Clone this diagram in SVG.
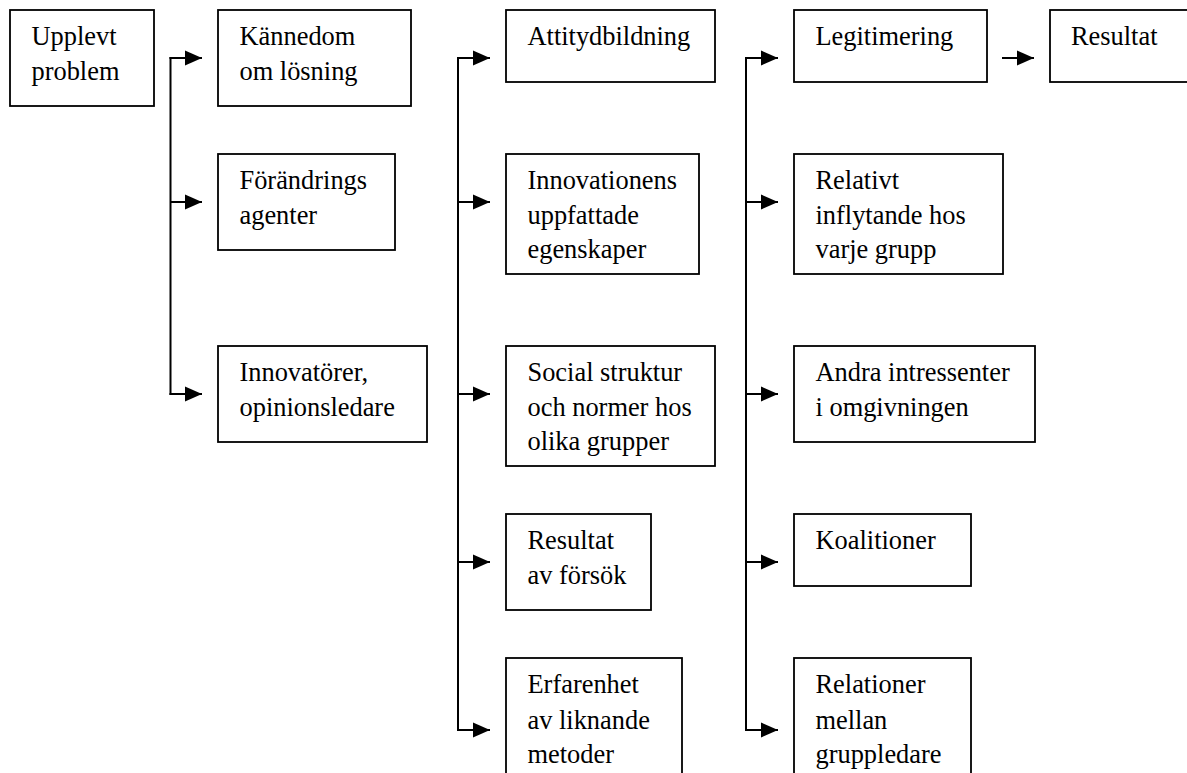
<svg xmlns="http://www.w3.org/2000/svg" width="1187" height="773" viewBox="0 0 1187 773">
<style>
.box{fill:#fff;stroke:#000;stroke-width:1.8}
.t{font-family:"Liberation Serif","Times New Roman",serif;font-size:26.4px;fill:#000}
.c{fill:none;stroke:#000;stroke-width:2}
</style>
<defs>
<marker id="ah" markerWidth="17" markerHeight="16" refX="17" refY="8" orient="auto" markerUnits="userSpaceOnUse">
<path d="M0,0.5 L17,8 L0,15.5 z" fill="#000"/>
</marker>
</defs>
<rect width="1187" height="773" fill="#fff"/>
<g id="connectors">
<path class="c" d="M170.5,57 V395"/>
<path class="c" d="M169.5,58 H202" marker-end="url(#ah)"/>
<path class="c" d="M170.5,202 H202" marker-end="url(#ah)"/>
<path class="c" d="M169.5,394 H202" marker-end="url(#ah)"/>
<path class="c" d="M458,57 V731"/>
<path class="c" d="M457,58 H490" marker-end="url(#ah)"/>
<path class="c" d="M458,202 H490" marker-end="url(#ah)"/>
<path class="c" d="M458,394 H490" marker-end="url(#ah)"/>
<path class="c" d="M458,562 H490" marker-end="url(#ah)"/>
<path class="c" d="M457,730 H490" marker-end="url(#ah)"/>
<path class="c" d="M746,57 V731"/>
<path class="c" d="M745,58 H778" marker-end="url(#ah)"/>
<path class="c" d="M746,202 H778" marker-end="url(#ah)"/>
<path class="c" d="M746,394 H778" marker-end="url(#ah)"/>
<path class="c" d="M746,562 H778" marker-end="url(#ah)"/>
<path class="c" d="M745,730 H778" marker-end="url(#ah)"/>
<path class="c" d="M1002,58 H1034" marker-end="url(#ah)"/>
</g>
<g id="n-upplevt"><rect class="box" x="10" y="10" width="144" height="96"/><text class="t" x="31.5" y="45">Upplevt</text><text class="t" x="31.5" y="80">problem</text></g>
<g id="n-kannedom"><rect class="box" x="218" y="10" width="193" height="96"/><text class="t" x="239.5" y="45">Kännedom</text><text class="t" x="239.5" y="80">om lösning</text></g>
<g id="n-forandrings"><rect class="box" x="218" y="154" width="177" height="96"/><text class="t" x="239.5" y="189">Förändrings</text><text class="t" x="239.5" y="223.5">agenter</text></g>
<g id="n-innovatorer"><rect class="box" x="218" y="346" width="209" height="96"/><text class="t" x="239.5" y="381">Innovatörer,</text><text class="t" x="239.5" y="415.5">opinionsledare</text></g>
<g id="n-attityd"><rect class="box" x="506" y="10" width="209" height="72"/><text class="t" x="527.5" y="45">Attitydbildning</text></g>
<g id="n-innovationens"><rect class="box" x="506" y="154" width="193" height="120"/><text class="t" x="527.5" y="189">Innovationens</text><text class="t" x="527.5" y="223.5">uppfattade</text><text class="t" x="527.5" y="258">egenskaper</text></g>
<g id="n-social"><rect class="box" x="506" y="346" width="209" height="120"/><text class="t" x="527.5" y="381">Social struktur</text><text class="t" x="527.5" y="415.5">och normer hos</text><text class="t" x="527.5" y="450">olika grupper</text></g>
<g id="n-forsok"><rect class="box" x="506" y="514" width="145" height="96"/><text class="t" x="527.5" y="549">Resultat</text><text class="t" x="527.5" y="584">av försök</text></g>
<g id="n-erfarenhet"><rect class="box" x="506" y="658" width="176" height="130"/><text class="t" x="527.5" y="693">Erfarenhet</text><text class="t" x="527.5" y="728.5">av liknande</text><text class="t" x="527.5" y="763">metoder</text></g>
<g id="n-legitimering"><rect class="box" x="794" y="10" width="193" height="72"/><text class="t" x="815.5" y="45">Legitimering</text></g>
<g id="n-resultat"><rect class="box" x="1050" y="10" width="160" height="72"/><text class="t" x="1071" y="45">Resultat</text></g>
<g id="n-relativt"><rect class="box" x="794" y="154" width="209" height="120"/><text class="t" x="815.5" y="189">Relativt</text><text class="t" x="815.5" y="223.5">inflytande hos</text><text class="t" x="815.5" y="258">varje grupp</text></g>
<g id="n-andra"><rect class="box" x="794" y="346" width="241" height="96"/><text class="t" x="815.5" y="381">Andra intressenter</text><text class="t" x="815.5" y="415.5">i omgivningen</text></g>
<g id="n-koalitioner"><rect class="box" x="794" y="514" width="177" height="72"/><text class="t" x="815.5" y="549">Koalitioner</text></g>
<g id="n-relationer"><rect class="box" x="794" y="658" width="177" height="130"/><text class="t" x="815.5" y="693">Relationer</text><text class="t" x="815.5" y="728.5">mellan</text><text class="t" x="815.5" y="763">gruppledare</text></g>
</svg>
